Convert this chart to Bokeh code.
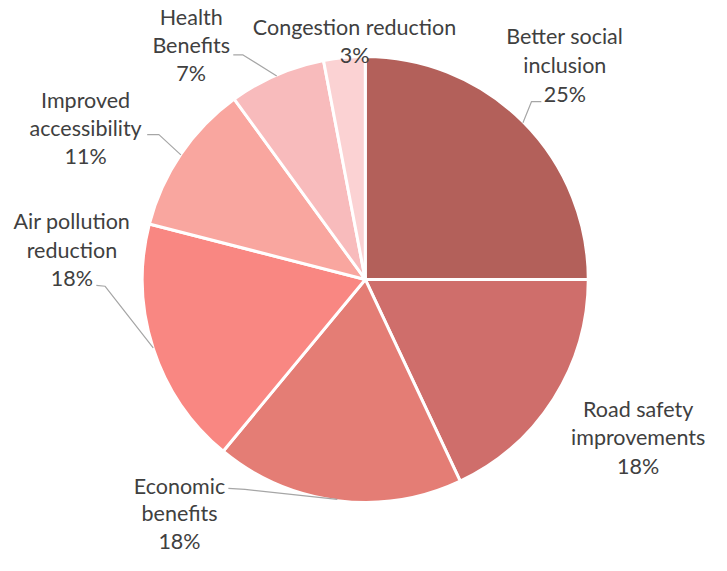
import math
from bokeh.plotting import figure
from bokeh.models import Range1d, ColumnDataSource
from bokeh.core.properties import value
from bokeh.embed import file_html
from bokeh.resources import INLINE

# ---- data ----
categories = ["Better social inclusion", "Road safety improvements", "Economic benefits",
              "Air pollution reduction", "Improved accessibility", "Health Benefits",
              "Congestion reduction"]
shares = [25, 18, 18, 18, 11, 7, 3]
label_lines = [["Better social", "inclusion"], ["Road safety", "improvements"],
               ["Economic", "benefits"], ["Air pollution", "reduction"],
               ["Improved", "accessibility"], ["Health", "Benefits"],
               ["Congestion reduction"]]
colors = ["#B3605A", "#CF6E6B", "#E47D75", "#F98782", "#F9A69F", "#F8BBBC", "#FBD2D3"]

# ---- layout (reference-frame coordinates, 727 x 571, y downward) ----
W, H = 711, 555
REF_W, REF_H = 727, 571
CX, CY, R = 373, 287, 228
label_pos = [(577, 37), (652, 420), (183, 499), (73, 227), (87, 102), (195, 17), (362, 27)]
label_lh = [29.5, 29.5, 28.5, 29.5, 29.0, 29.0, 29.5]
# leader elbows (elbow point, end point) or None
leaders = [((543, 104), (553, 104)), None, ((250, 503), (233, 502)),
           ((107, 294), (98, 293)), ((162, 138), (150, 138)),
           ((248, 56), (238, 56)), None]

def Y(y):
    return REF_H - y

p = figure(width=W, height=H, output_backend="svg", toolbar_location=None,
           x_range=Range1d(0, REF_W), y_range=Range1d(0, REF_H), min_border=0)
p.axis.visible = False
p.grid.visible = False
p.outline_line_color = None
p.background_fill_color = "white"

total = float(sum(shares))
starts, ends, mids = [], [], []
acc = 0.0
for s in shares:
    a0 = math.pi / 2 - 2 * math.pi * acc / total
    acc += s
    a1 = math.pi / 2 - 2 * math.pi * acc / total
    starts.append(a0)
    ends.append(a1)
    mids.append((a0 + a1) / 2)

src = ColumnDataSource(dict(start=starts, end=ends, color=colors, cat=categories))
p.wedge(x=CX, y=Y(CY), radius=R, start_angle="start", end_angle="end",
        direction="clock", fill_color="color", line_color="white", line_width=3,
        source=src)

# leader lines
for i, ld in enumerate(leaders):
    if ld is None:
        continue
    ex = CX + R * math.cos(mids[i])
    ey = Y(CY) + R * math.sin(mids[i])
    (bx, by), (tx, ty) = ld
    p.line([ex, bx, tx], [ey, Y(by), Y(ty)], line_color="#A6A6A6", line_width=1.2)

# labels
xs, ys, txt = [], [], []
for i, lines in enumerate(label_lines):
    lx, ly = label_pos[i]
    all_lines = lines + ["%d%%" % shares[i]]
    for k, t in enumerate(all_lines):
        xs.append(lx)
        ys.append(Y(ly + k * label_lh[i]))
        txt.append(t)
p.text(x=xs, y=ys, text=txt, text_align="center", text_baseline="middle",
       text_font=value("Lato"), text_font_size="21.5px", text_color="#404040")

open("out.html", "w").write(file_html(p, INLINE))
